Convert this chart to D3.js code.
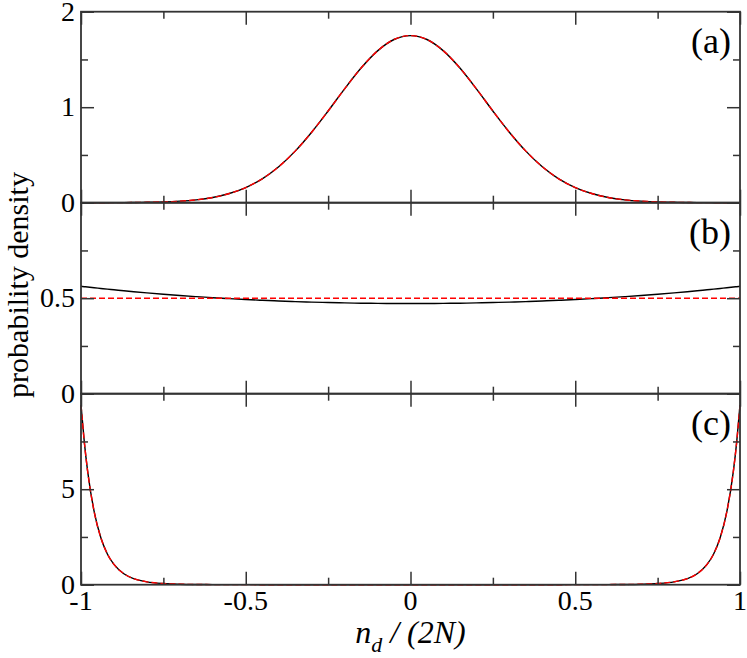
<!DOCTYPE html>
<html>
<head>
<meta charset="utf-8">
<script src="https://cdn.jsdelivr.net/npm/d3@7"></script>
<style>
  body { margin: 0; background: #fff; }
</style>
</head>
<body>
<div id="canvas" class="canvas"></div>
<script>
// data
var xVals = [-1, -0.99, -0.98, -0.96, -0.94, -0.92, -0.9, -0.87, -0.84, -0.8, -0.75, -0.7, -0.65, -0.6, -0.55,
  -0.5, -0.45, -0.4, -0.35, -0.3, -0.25, -0.2, -0.15, -0.1, -0.05, 0,
  0.05, 0.1, 0.15, 0.2, 0.25, 0.3, 0.35, 0.4, 0.45, 0.5, 0.55, 0.6, 0.65, 0.7, 0.75,
  0.8, 0.84, 0.87, 0.9, 0.92, 0.94, 0.96, 0.98, 0.99, 1];

// panel (a)
var aBlack = [0, 0, 0, 0, 0, 0, 0.001, 0.001, 0.002, 0.004, 0.008, 0.016, 0.030, 0.055, 0.096,
  0.159, 0.250, 0.377, 0.540, 0.738, 0.960, 1.192, 1.410, 1.590, 1.709, 1.750,
  1.709, 1.590, 1.410, 1.192, 0.960, 0.738, 0.540, 0.377, 0.250, 0.159, 0.096, 0.055, 0.030, 0.016, 0.008,
  0.004, 0.002, 0.001, 0.001, 0, 0, 0, 0, 0, 0];
var aRed = [0, 0, 0, 0, 0, 0, 0.001, 0.001, 0.002, 0.004, 0.008, 0.016, 0.030, 0.055, 0.096,
  0.159, 0.250, 0.377, 0.540, 0.738, 0.960, 1.192, 1.410, 1.590, 1.709, 1.750,
  1.709, 1.590, 1.410, 1.192, 0.960, 0.738, 0.540, 0.377, 0.250, 0.159, 0.096, 0.055, 0.030, 0.016, 0.008,
  0.004, 0.002, 0.001, 0.001, 0, 0, 0, 0, 0, 0];

// panel (b)
var bBlack = [0.5623, 0.5603, 0.5584, 0.5546, 0.5511, 0.5475, 0.5441, 0.5389, 0.5340, 0.5279, 0.5208, 0.5142, 0.5082, 0.5027, 0.4977,
  0.4931, 0.4890, 0.4854, 0.4822, 0.4795, 0.4772, 0.4753, 0.4739, 0.4728, 0.4722, 0.4720,
  0.4722, 0.4728, 0.4739, 0.4753, 0.4772, 0.4795, 0.4822, 0.4854, 0.4890, 0.4931, 0.4977, 0.5027, 0.5082, 0.5142, 0.5208,
  0.5279, 0.5340, 0.5389, 0.5441, 0.5475, 0.5511, 0.5546, 0.5584, 0.5603, 0.5623];
var bRedX = [-1, 1];
var bRed = [0.5, 0.5];

// panel (c)
var cBlack = [9.40, 7.48, 5.96, 3.82, 2.47, 1.61, 1.06, 0.574, 0.318, 0.150, 0.061, 0.027, 0.012, 0.006, 0.003,
  0.002, 0.001, 0.001, 0, 0, 0, 0, 0, 0, 0, 0,
  0, 0, 0, 0, 0, 0, 0, 0.001, 0.001, 0.002, 0.003, 0.006, 0.012, 0.027, 0.061,
  0.150, 0.318, 0.574, 1.06, 1.61, 2.47, 3.82, 5.96, 7.48, 9.40];
var cRed = [9.40, 7.48, 5.96, 3.82, 2.47, 1.61, 1.06, 0.574, 0.318, 0.150, 0.061, 0.027, 0.012, 0.006, 0.003,
  0.002, 0.001, 0.001, 0, 0, 0, 0, 0, 0, 0, 0,
  0, 0, 0, 0, 0, 0, 0, 0.001, 0.001, 0.002, 0.003, 0.006, 0.012, 0.027, 0.061,
  0.150, 0.318, 0.574, 1.06, 1.61, 2.47, 3.82, 5.96, 7.48, 9.40];

// ticks
var xMajor = [-1, -0.5, 0, 0.5, 1];
var xMinor = [-0.75, -0.25, 0.25, 0.75];
var xLabels = ['-1', '-0.5', '0', '0.5', '1'];
var panelNames = ['(a)', '(b)', '(c)'];
var yMax = [2, 1, 10];
var yMajor = [[0, 1, 2], [0, 0.5, 1], [0, 5, 10]];
var yMinor = [[0.5, 1.5], [0.25, 0.75], [2.5, 7.5]];
var yLabels = [['0', '1', '2'], ['0', '0.5'], ['0', '5']];

var W = 747, H = 658;
var m = {t: 11.7, l: 81, r: 7};
var w = W - m.l - m.r;
var ph = 191;   // height of one panel
var serif = 'Liberation Serif';

var svg = d3.select('.canvas')
  .append('svg')
  .attr('width', W)
  .attr('height', H);

var scaleX = d3.scaleLinear().domain([-1, 1]).range([0, w]);

var series = [
  {black: aBlack, red: aRed, redX: xVals},
  {black: bBlack, red: bRed, redX: bRedX},
  {black: cBlack, red: cRed, redX: xVals}
];

var axisColor = '#333';

series.forEach(function(s, i) {
  var plot = svg.append('g')
    .attr('transform', 'translate(' + m.l + ',' + (m.t + i * ph) + ')');

  var scaleY = d3.scaleLinear().domain([0, yMax[i]]).range([ph, 0]);

  var line = d3.line()
    .x(function(d) { return scaleX(d[0]); })
    .y(function(d) { return scaleY(d[1]); })
    .curve(d3.curveMonotoneX);

  plot.append('path')
    .datum(d3.zip(xVals, s.black))
    .attr('d', line)
    .attr('fill', 'none')
    .attr('stroke', '#000')
    .attr('stroke-width', 1.4);

  plot.append('path')
    .datum(d3.zip(s.redX, s.red))
    .attr('d', line)
    .attr('fill', 'none')
    .attr('stroke', '#ff0000')
    .attr('stroke-width', 1.4)
    .attr('stroke-dasharray', '6,3');

  // inward ticks on all four sides
  var majX = 13, minX = 7;
  var bottom = d3.axisTop(scaleX).tickValues(xMajor).tickSize(majX).tickFormat('');
  var bottomMin = d3.axisTop(scaleX).tickValues(xMinor).tickSize(minX).tickFormat('');
  var top = d3.axisBottom(scaleX).tickValues(xMajor).tickSize(majX).tickFormat('');
  var topMin = d3.axisBottom(scaleX).tickValues(xMinor).tickSize(minX).tickFormat('');
  var left = d3.axisRight(scaleY).tickValues(yMajor[i]).tickSize(majX).tickFormat('');
  var leftMin = d3.axisRight(scaleY).tickValues(yMinor[i]).tickSize(minX).tickFormat('');
  var right = d3.axisLeft(scaleY).tickValues(yMajor[i]).tickSize(majX).tickFormat('');
  var rightMin = d3.axisLeft(scaleY).tickValues(yMinor[i]).tickSize(minX).tickFormat('');

  [[bottom, 0, ph], [bottomMin, 0, ph], [top, 0, 0], [topMin, 0, 0],
   [left, 0, 0], [leftMin, 0, 0], [right, w, 0], [rightMin, w, 0]].forEach(function(a) {
    var g = plot.append('g')
      .attr('class', 'axis')
      .attr('transform', 'translate(' + a[1] + ',' + a[2] + ')')
      .call(a[0]);
    g.select('.domain').remove();
    g.selectAll('line').attr('stroke', axisColor).attr('stroke-width', 1.5);
  });

  plot.append('rect')
    .attr('width', w)
    .attr('height', ph)
    .attr('fill', 'none')
    .attr('stroke', axisColor)
    .attr('stroke-width', 1.8);

  // y tick labels
  plot.selectAll('.ylab')
    .data(yLabels[i])
    .enter()
    .append('text')
    .attr('class', 'ylab')
    .attr('x', -6)
    .attr('y', function(d, j) { return scaleY(yMajor[i][j]) + 9; })
    .attr('text-anchor', 'end')
    .attr('font-family', serif)
    .attr('font-size', 28)
    .text(function(d) { return d; });

  plot.append('text')
    .attr('x', w - 9)
    .attr('y', 41)
    .attr('text-anchor', 'end')
    .attr('font-family', serif)
    .attr('font-size', 36)
    .text(panelNames[i]);

  if (i === 2) {
    plot.selectAll('.xlab')
      .data(xLabels)
      .enter()
      .append('text')
      .attr('class', 'xlab')
      .attr('x', function(d, j) { return scaleX(xMajor[j]); })
      .attr('y', ph + 25)
      .attr('text-anchor', 'middle')
      .attr('font-family', serif)
      .attr('font-size', 28)
      .text(function(d) { return d; });
  }
});

// axis titles
var xt = svg.append('text')
  .attr('x', m.l + w / 2)
  .attr('y', 643)
  .attr('text-anchor', 'middle')
  .attr('font-family', serif)
  .attr('font-size', 32)
  .attr('font-style', 'italic');
xt.append('tspan').text('n');
xt.append('tspan').attr('dy', 9).attr('font-size', 22).text('d');
xt.append('tspan').attr('dy', -9).text(' / (2N)');

svg.append('text')
  .attr('transform', 'translate(28,285) rotate(-90)')
  .attr('text-anchor', 'middle')
  .attr('font-family', serif)
  .attr('font-size', 30)
  .text('probability density');
</script>
</body>
</html>
